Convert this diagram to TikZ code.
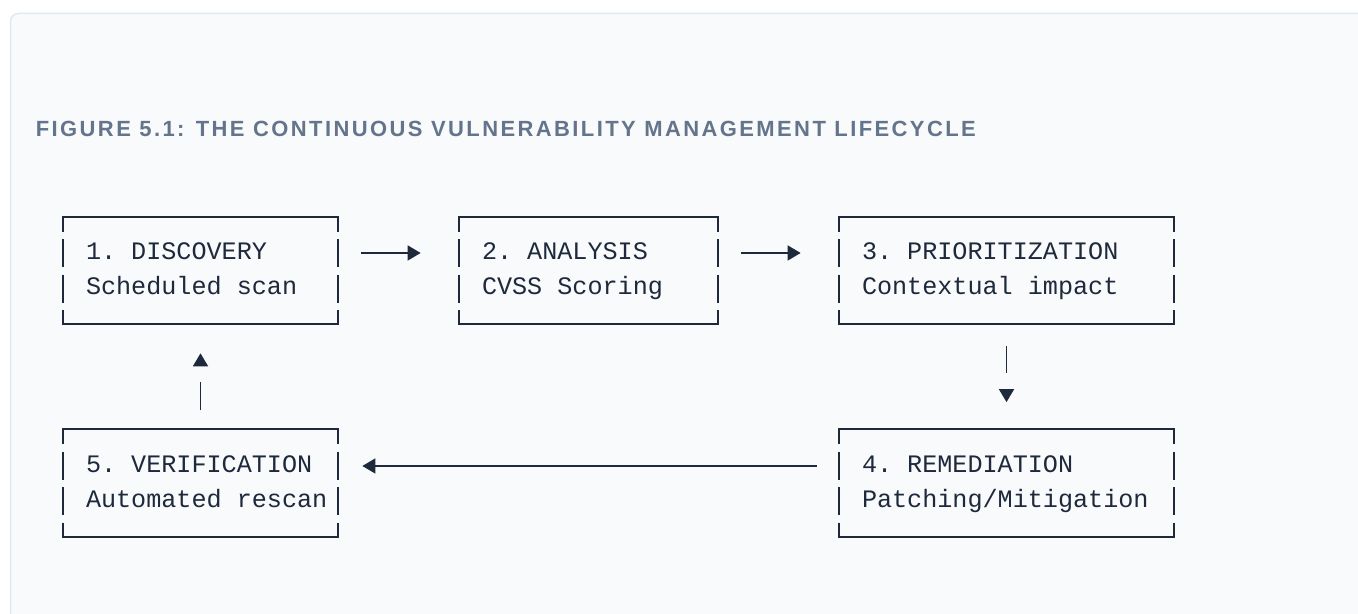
\documentclass[tikz,border=0pt]{standalone}
\usepackage{fontspec}
\usetikzlibrary{arrows.meta}
\newfontfamily\stagefont{Liberation Mono}
\newfontfamily\captionfont{Liberation Sans}[LetterSpace=11]
\definecolor{ink}{HTML}{1E293B}
\definecolor{slate}{HTML}{64748B}
\definecolor{panelfill}{HTML}{F8FAFC}
\definecolor{panelline}{HTML}{E2E8F0}

\begin{document}
\begin{tikzpicture}

\tikzstyle{stage}=[rectangle,minimum height=2.14cm,inner xsep=0.46cm,inner ysep=0pt,align=flush left,text=ink,font=\stagefont\fontsize{14.3}{19.9}\selectfont\frenchspacing]
\tikzstyle{boxline}=[draw=ink,line width=1.1pt,line cap=rect]
\tikzstyle{sideline}=[draw=ink,line width=1.1pt,dash pattern=on 0.56cm off 0.15cm,dash phase=0.26cm]
\tikzstyle{flowline}=[draw=ink,line width=0.9pt]
\tikzstyle{shaft}=[draw=ink,line width=1.1pt]
\tikzstyle{flow}=[flowline,-{Triangle[length=0.26cm,width=0.30cm]}]

%Page and panel
\useasboundingbox (0,0) rectangle (27.16,12.28);
\fill[white] (0,0) rectangle (27.16,12.28);
\clip (0,0) rectangle (27.16,12.28);
\draw[fill=panelfill,draw=panelline,line width=0.03cm,rounded corners=0.16cm] (0.21,-1) rectangle (28,12.01);

%Caption
\node[anchor=base west,inner sep=0pt,text=slate,font=\captionfont\bfseries\fontsize{12.5}{15}\selectfont] (caption) at (0.71,9.54) {FIGURE 5.1: THE CONTINUOUS VULNERABILITY MANAGEMENT LIFECYCLE};

%top row
\node[stage,text width=4.58cm] (disc) at (4.01,6.87)  {1. DISCOVERY\strut\\Scheduled scan\strut};
\node[stage,text width=4.26cm] (anal) at (11.77,6.87) {2. ANALYSIS\strut\\CVSS Scoring\strut};
\node[stage,text width=5.78cm] (prio) at (20.13,6.87) {3. PRIORITIZATION\strut\\Contextual impact\strut};

%bottom row
\node[stage,text width=5.78cm] (reme) at (20.13,2.62) {4. REMEDIATION\strut\\Patching/Mitigation\strut};
\node[stage,text width=4.58cm] (veri) at (4.01,2.62)  {\mbox{5. VERIFICATION}\strut\\\mbox{Automated rescan}\strut};

%box borders
\foreach \s in {disc,anal,prio,reme,veri}{
  \draw[boxline] (\s.north west) -- (\s.north east);
  \draw[boxline] (\s.south west) -- (\s.south east);
  \draw[sideline] (\s.north west) -- (\s.south west);
  \draw[sideline] (\s.north east) -- (\s.south east);
}

% connections
\draw[flow] ([shift={(0.46,0.35)}]disc.east) -- ([shift={(-0.76,0.35)}]anal.west);
\draw[flow] ([shift={(0.46,0.35)}]anal.east) -- ([shift={(-0.76,0.35)}]prio.west);

\draw[shaft,shorten <=0.44cm,shorten >=1.12cm] (prio.south) -- (reme.north);
\draw[flow,shorten <=1.30cm,shorten >=0.54cm] (prio.south) -- (reme.north);

\draw[flow] ([shift={(-0.44,0.34)}]reme.west) -- ([shift={(0.48,0.34)}]veri.east);

\draw[shaft,shorten <=0.38cm,shorten >=1.16cm] (veri.north) -- (disc.south);
\draw[flow,shorten <=1.28cm,shorten >=0.58cm] (veri.north) -- (disc.south);

\end{tikzpicture}
\end{document}
